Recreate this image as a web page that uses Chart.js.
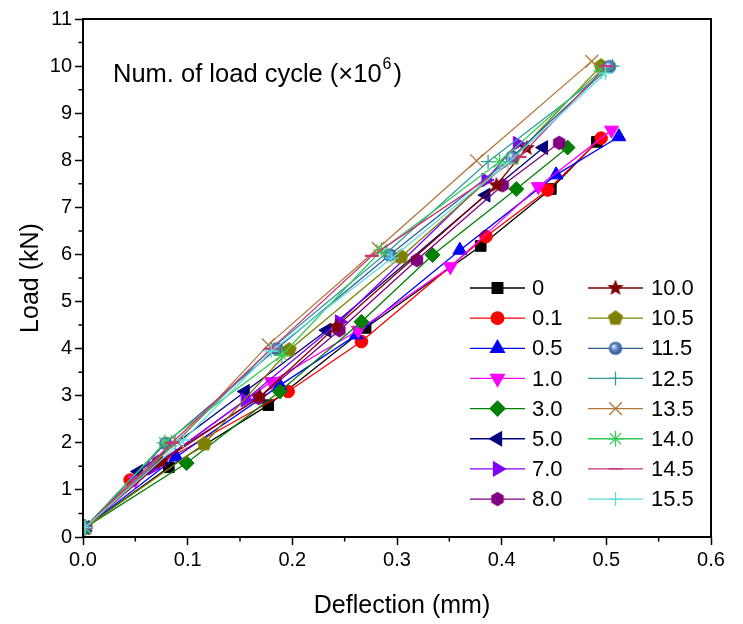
<!DOCTYPE html>
<html><head><meta charset="utf-8">
<script src="https://cdn.jsdelivr.net/npm/chart.js@4/dist/chart.umd.min.js"></script>
<style>html,body{margin:0;padding:0;background:#fff}#wrap{width:743px;height:624px;position:relative}</style>
</head><body><div id="wrap"><canvas id="c" width="743" height="624"></canvas></div>
<script>
// ---- data ----
const seriesNames = ['0','0.1','0.5','1.0','3.0','5.0','7.0','8.0','10.0','10.5','11.5','12.5','13.5','14.0','14.5','15.5'];
const xTicks = [0.0,0.1,0.2,0.3,0.4,0.5,0.6];
const yTicks = [0,1,2,3,4,5,6,7,8,9,10,11];

const defl_0   = [0.002,0.082,0.177,0.270,0.380,0.447,0.491];
const load_0   = [0.20,1.48,2.80,4.44,6.18,7.39,8.39];
const defl_01  = [0.002,0.045,0.196,0.266,0.385,0.444,0.495];
const load_01  = [0.20,1.21,3.09,4.15,6.38,7.37,8.47];
const defl_05  = [0.002,0.089,0.188,0.261,0.360,0.452,0.512];
const load_05  = [0.20,1.70,3.22,4.29,6.09,7.69,8.50];
const defl_10  = [0.002,0.050,0.180,0.263,0.351,0.435,0.505];
const load_10  = [0.20,1.21,3.30,4.39,5.74,7.44,8.64];
const defl_30  = [0.002,0.099,0.188,0.266,0.334,0.414,0.463];
const load_30  = [0.20,1.57,3.09,4.57,5.99,7.39,8.27];
const defl_50  = [0.002,0.053,0.155,0.233,0.385,0.440];
const load_50  = [0.20,1.39,3.09,4.39,7.26,8.27];
const defl_70  = [0.002,0.066,0.155,0.245,0.385,0.415];
const load_70  = [0.20,1.46,2.91,4.57,7.58,8.36];
const defl_80  = [0.002,0.072,0.168,0.245,0.319,0.401,0.455];
const load_80  = [0.20,1.60,2.95,4.39,5.88,7.47,8.37];
const defl_100 = [0.002,0.075,0.169,0.242,0.395,0.424];
const load_100 = [0.20,1.60,2.98,4.47,7.47,8.26];
const defl_105 = [0.002,0.116,0.197,0.304,0.411,0.495];
const load_105 = [0.20,1.98,3.97,5.95,8.05,10.00];
const defl_115 = [0.002,0.079,0.185,0.293,0.410,0.503];
const load_115 = [0.20,1.99,4.00,5.99,8.07,9.99];
const defl_125 = [0.002,0.088,0.180,0.290,0.387,0.506];
const load_125 = [0.20,2.00,4.00,6.03,7.97,10.00];
const defl_135 = [0.002,0.090,0.177,0.282,0.376,0.486];
const load_135 = [0.20,2.02,4.08,6.13,7.99,10.10];
const defl_140 = [0.002,0.078,0.190,0.285,0.398,0.495];
const load_140 = [0.20,2.00,3.86,6.09,7.97,9.90];
const defl_145 = [0.002,0.085,0.180,0.276,0.417,0.500];
const load_145 = [0.20,2.00,4.00,5.97,8.07,10.00];
const defl_155 = [0.002,0.096,0.180,0.295,0.406,0.499];
const load_155 = [0.20,2.06,3.95,5.92,7.94,9.85];

const deflList = [defl_0,defl_01,defl_05,defl_10,defl_30,defl_50,defl_70,defl_80,defl_100,defl_105,defl_115,defl_125,defl_135,defl_140,defl_145,defl_155];
const loadList = [load_0,load_01,load_05,load_10,load_30,load_50,load_70,load_80,load_100,load_105,load_115,load_125,load_135,load_140,load_145,load_155];

// ---- styles ----
const FONT = "'Liberation Sans', Arial, sans-serif";
const colors = ['#000000','#ff0000','#0000ff','#ff00ff','#008000','#000080','#8000ff','#800080','#800000','#808000','#2f5f9f','#2e9e9e','#b07838','#33cc55','#cc3377','#5fdede'];

function mk(size, fn){ const c=document.createElement('canvas'); c.width=size; c.height=size; const g=c.getContext('2d'); fn(g,size/2); return c; }
function poly(g,c,n,R,off,fill){ g.beginPath(); for(let i=0;i<n;i++){const a=off+i*2*Math.PI/n; const px=c+R*Math.cos(a), py=c+R*Math.sin(a); i?g.lineTo(px,py):g.moveTo(px,py);} g.closePath(); g.fillStyle=fill; g.fill(); }
const starImg = mk(20,(g,c)=>{ g.beginPath(); for(let i=0;i<10;i++){const R=i%2?3.8:8.5; const a=-Math.PI/2+i*Math.PI/5; const px=c+R*Math.cos(a),py=c+R*Math.sin(a); i?g.lineTo(px,py):g.moveTo(px,py);} g.closePath(); g.fillStyle=colors[8]; g.fill(); });
const pentImg = mk(20,(g,c)=>poly(g,c,5,8,-Math.PI/2,colors[9]));
const hexImg  = mk(18,(g,c)=>poly(g,c,6,7.2,-Math.PI/2,colors[7]));
const ballImg = mk(16,(g,c)=>{ const gr=g.createRadialGradient(c-2,c-2,0.5,c,c,6.8); gr.addColorStop(0,'#e8f0ff'); gr.addColorStop(0.35,'#6d95cc'); gr.addColorStop(1,'#1f4c8a'); g.beginPath(); g.arc(c,c,6.6,0,Math.PI*2); g.fillStyle=gr; g.fill(); });

const pStyle = ['rect','circle','triangle','triangle','rectRot','triangle','triangle',hexImg,starImg,pentImg,ballImg,'cross','crossRot','star','line','cross'];
const pRot   = [0,0,0,180,0,270,90,0,0,0,0,0,0,0,0,0];
const pRad   = [7.5,6.3,8,8,7.5,8,8,7,8,8,7,7,9,8,7,7];
const pBW    = [1,1,1,1,1,1,1,1,1,1,1,1.3,1.3,1.3,2.2,1.3];

const N = seriesNames.length;
const datasets = seriesNames.map((name,i)=>({
  label: name,
  data: deflList[i].map((x,j)=>({x:x, y:loadList[i][j]})),
  borderColor: colors[i], backgroundColor: colors[i],
  pointBackgroundColor: colors[i], pointBorderColor: colors[i],
  borderWidth: 1.3, pointStyle: pStyle[i], pointRotation: pRot[i],
  pointRadius: pRad[i], pointBorderWidth: pBW[i], pointHoverRadius: pRad[i],
  showLine: true, tension: 0, order: N - i
}));

const deco = {
  id: 'deco',
  afterDraw(chart){
    const ctx = chart.ctx, a = chart.chartArea, xs = chart.scales.x, ys = chart.scales.y;
    ctx.save();
    ctx.strokeStyle = '#000'; ctx.lineWidth = 2;
    ctx.strokeRect(a.left, a.top, a.right - a.left, a.bottom - a.top);
    // minor ticks
    ctx.lineWidth = 1.5; ctx.beginPath();
    for (let k = 0; k < xTicks.length - 1; k++) {
      const px = xs.getPixelForValue((xTicks[k] + xTicks[k+1]) / 2);
      ctx.moveTo(px, a.bottom); ctx.lineTo(px, a.bottom + 4.5);
    }
    for (let k = 0; k < yTicks.length - 1; k++) {
      const py = ys.getPixelForValue((yTicks[k] + yTicks[k+1]) / 2);
      ctx.moveTo(a.left, py); ctx.lineTo(a.left - 4.5, py);
    }
    ctx.stroke();
    // axis titles
    ctx.fillStyle = '#000';
    ctx.font = '25px ' + FONT; ctx.textAlign = 'center'; ctx.textBaseline = 'middle';
    ctx.fillText('Deflection (mm)', (a.left + a.right) / 2 + 5, 606);
    ctx.save(); ctx.translate(31, (a.top + a.bottom) / 2); ctx.rotate(-Math.PI / 2);
    ctx.fillText('Load (kN)', 0, 0); ctx.restore();
    // annotation
    ctx.textAlign = 'left'; ctx.textBaseline = 'alphabetic';
    ctx.font = '25.5px ' + FONT;
    const t1 = 'Num. of load cycle (\u00d710';
    ctx.fillText(t1, 113, 82);
    let w = ctx.measureText(t1).width;
    ctx.font = '16px ' + FONT; ctx.fillText('6', 113 + w + 1, 69);
    const w2 = ctx.measureText('6').width;
    ctx.font = '25.5px ' + FONT; ctx.fillText(')', 113 + w + w2 + 3, 82);
    // legend
    ctx.font = '22px ' + FONT; ctx.textBaseline = 'middle';
    const rowY0 = 288, dy = 30.15;
    chart.data.datasets.forEach((ds, i) => {
      const col = i < 8 ? 0 : 1, row = i % 8;
      const y = rowY0 + row * dy;
      const x1 = col ? 588 : 470, x2 = col ? 643 : 525, tx = col ? 651 : 532;
      ctx.strokeStyle = colors[i]; ctx.lineWidth = 1.3;
      ctx.beginPath(); ctx.moveTo(x1, y); ctx.lineTo(x2, y); ctx.stroke();
      ctx.fillStyle = colors[i]; ctx.strokeStyle = colors[i];
      Chart.helpers.drawPoint(ctx, {pointStyle: pStyle[i], rotation: pRot[i], radius: pRad[i], borderWidth: pBW[i]}, (x1 + x2) / 2, y);
      ctx.fillStyle = '#000';
      ctx.fillText(seriesNames[i], tx, y + 1);
    });
    ctx.restore();
  }
};

new Chart(document.getElementById('c'), {
  type: 'scatter',
  data: { datasets },
  options: {
    responsive: false, animation: false, devicePixelRatio: 1,
    layout: { padding: { left: 0, right: 32, top: 19, bottom: 0 } },
    plugins: { legend: { display: false }, tooltip: { enabled: false } },
    scales: {
      x: {
        type: 'linear', min: xTicks[0], max: xTicks[xTicks.length-1],
        afterBuildTicks: s => { s.ticks = xTicks.map(v => ({value: v})); },
        afterFit: s => { s.height = 87; },
        ticks: { callback: v => Number(v).toFixed(1), color: '#000', font: { size: 20, family: FONT }, padding: 3, maxRotation: 0, autoSkip: false },
        grid: { drawOnChartArea: false, drawTicks: true, tickLength: 8, tickWidth: 1.5, tickColor: '#000' },
        border: { display: false }
      },
      y: {
        type: 'linear', min: yTicks[0], max: yTicks[yTicks.length-1],
        afterBuildTicks: s => { s.ticks = yTicks.map(v => ({value: v})); },
        afterFit: s => { s.width = 83; },
        ticks: { callback: v => String(v), color: '#000', font: { size: 20, family: FONT }, padding: 3, autoSkip: false },
        grid: { drawOnChartArea: false, drawTicks: true, tickLength: 8, tickWidth: 1.5, tickColor: '#000' },
        border: { display: false }
      }
    }
  },
  plugins: [deco]
});
</script></body></html>
